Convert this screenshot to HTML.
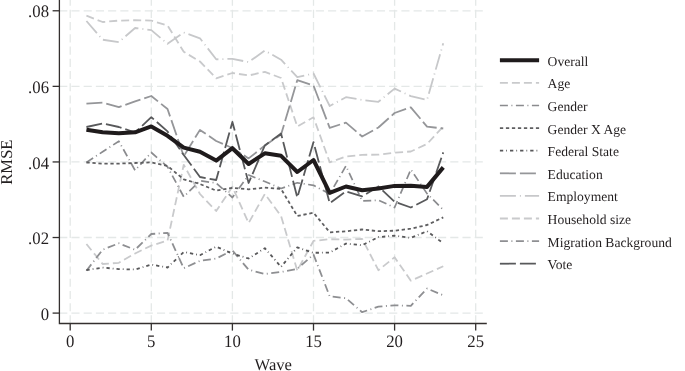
<!DOCTYPE html>
<html><head><meta charset="utf-8"><style>
html,body{margin:0;padding:0;background:#fff;width:685px;height:371px;overflow:hidden}
svg{display:block;will-change:transform}
text{font-family:"Liberation Serif",serif;text-rendering:geometricPrecision}
</style></head><body>
<svg width="685" height="371" viewBox="0 0 685 371">
<rect width="685" height="371" fill="#fff"/>

<line x1="59.2" y1="313.10" x2="486.8" y2="313.10" stroke="#e4e8e7" stroke-width="1.3" stroke-dasharray="8.15 4.07"/>
<line x1="59.2" y1="237.52" x2="486.8" y2="237.52" stroke="#e4e8e7" stroke-width="1.3" stroke-dasharray="8.15 4.07"/>
<line x1="59.2" y1="161.94" x2="486.8" y2="161.94" stroke="#e4e8e7" stroke-width="1.3" stroke-dasharray="8.15 4.07"/>
<line x1="59.2" y1="86.36" x2="486.8" y2="86.36" stroke="#e4e8e7" stroke-width="1.3" stroke-dasharray="8.15 4.07"/>
<line x1="59.2" y1="10.78" x2="486.8" y2="10.78" stroke="#e4e8e7" stroke-width="1.3" stroke-dasharray="8.15 4.07"/>
<line x1="70.20" y1="323.5" x2="70.20" y2="-5" stroke="#e4e8e7" stroke-width="1.3" stroke-dasharray="8.15 4.07"/>
<line x1="151.30" y1="323.5" x2="151.30" y2="-5" stroke="#e4e8e7" stroke-width="1.3" stroke-dasharray="8.15 4.07"/>
<line x1="232.40" y1="323.5" x2="232.40" y2="-5" stroke="#e4e8e7" stroke-width="1.3" stroke-dasharray="8.15 4.07"/>
<line x1="313.50" y1="323.5" x2="313.50" y2="-5" stroke="#e4e8e7" stroke-width="1.3" stroke-dasharray="8.15 4.07"/>
<line x1="394.60" y1="323.5" x2="394.60" y2="-5" stroke="#e4e8e7" stroke-width="1.3" stroke-dasharray="8.15 4.07"/>
<line x1="475.70" y1="323.5" x2="475.70" y2="-5" stroke="#e4e8e7" stroke-width="1.3" stroke-dasharray="8.15 4.07"/>
<polyline points="86.42,244.00 102.64,264.00 118.86,262.80 135.08,253.50 151.30,245.60 167.52,240.60 183.74,164.80 199.96,194.00 216.18,211.00 232.40,186.80 248.62,223.00 264.84,194.00 281.06,216.00 297.28,270.50 313.50,240.90 329.72,239.20 345.94,239.60 362.16,238.80 378.38,270.20 394.60,257.30 410.82,280.70 427.04,273.50 443.26,266.20" fill="none" stroke="#c9cacc" stroke-width="1.80" stroke-linejoin="round" stroke-dasharray="8 4"/>
<polyline points="86.42,15.70 102.64,22.00 118.86,20.60 135.08,20.20 151.30,20.60 167.52,25.40 183.74,51.80 199.96,61.50 216.18,78.30 232.40,73.00 248.62,75.50 264.84,71.80 281.06,78.00 297.28,126.50 313.50,117.30 329.72,162.30 345.94,156.50 362.16,154.80 378.38,154.70 394.60,152.60 410.82,151.50 427.04,144.00 443.26,126.50" fill="none" stroke="#c9cacc" stroke-width="1.80" stroke-linejoin="round" stroke-dasharray="8 4"/>
<polyline points="86.42,21.00 102.64,39.70 118.86,42.10 135.08,28.00 151.30,30.10 167.52,43.80 183.74,32.50 199.96,38.30 216.18,59.30 232.40,58.80 248.62,62.10 264.84,50.60 281.06,59.70 297.28,77.20 313.50,73.50 329.72,106.00 345.94,97.20 362.16,99.90 378.38,101.80 394.60,88.60 410.82,96.10 427.04,99.90 443.26,43.20" fill="none" stroke="#c7c8ca" stroke-width="1.80" stroke-linejoin="round" stroke-dasharray="16 4 1 4"/>
<polyline points="86.42,270.70 102.64,249.70 118.86,243.30 135.08,249.80 151.30,234.00 167.52,232.90 183.74,268.20 199.96,260.90 216.18,258.50 232.40,250.40 248.62,269.80 264.84,274.00 281.06,272.00 297.28,268.90 313.50,254.50 329.72,296.40 345.94,298.20 362.16,312.20 378.38,306.60 394.60,305.30 410.82,305.80 427.04,288.50 443.26,295.30" fill="none" stroke="#8e8f92" stroke-width="1.80" stroke-linejoin="round" stroke-dasharray="8 3.5 1 3.5"/>
<polyline points="86.42,103.60 102.64,102.60 118.86,107.20 135.08,101.30 151.30,96.00 167.52,109.00 183.74,156.20 199.96,129.90 216.18,141.00 232.40,148.00 248.62,158.40 264.84,145.50 281.06,134.60 297.28,80.20 313.50,85.50 329.72,127.90 345.94,122.60 362.16,136.50 378.38,127.50 394.60,113.00 410.82,107.30 427.04,126.70 443.26,128.50" fill="none" stroke="#959699" stroke-width="1.80" stroke-linejoin="round" stroke-dasharray="16 4"/>
<polyline points="86.42,162.40 102.64,151.80 118.86,141.20 135.08,170.40 151.30,152.50 167.52,166.80 183.74,196.80 199.96,180.80 216.18,183.00 232.40,197.50 248.62,175.00 264.84,181.50 281.06,188.50 297.28,182.80 313.50,185.30 329.72,194.00 345.94,165.90 362.16,201.00 378.38,200.20 394.60,207.50 410.82,169.50 427.04,193.60 443.26,209.80" fill="none" stroke="#8a8b8e" stroke-width="1.70" stroke-linejoin="round" stroke-dasharray="8 3.5 1 3.5"/>
<polyline points="86.42,270.00 102.64,267.60 118.86,269.10 135.08,269.50 151.30,264.60 167.52,267.50 183.74,252.00 199.96,255.20 216.18,246.70 232.40,253.60 248.62,258.50 264.84,248.20 281.06,266.80 297.28,247.40 313.50,252.80 329.72,252.60 345.94,243.60 362.16,245.20 378.38,237.10 394.60,235.70 410.82,237.90 427.04,231.20 443.26,243.30" fill="none" stroke="#58585a" stroke-width="1.80" stroke-linejoin="round" stroke-dasharray="3.3 3 0.8 3"/>
<polyline points="86.42,162.50 102.64,163.60 118.86,163.60 135.08,163.00 151.30,162.40 167.52,166.00 183.74,179.30 199.96,184.00 216.18,190.60 232.40,187.80 248.62,189.30 264.84,187.70 281.06,189.00 297.28,216.00 313.50,212.70 329.72,232.30 345.94,231.30 362.16,229.50 378.38,231.20 394.60,230.70 410.82,228.70 427.04,225.00 443.26,217.40" fill="none" stroke="#5e5e60" stroke-width="1.80" stroke-linejoin="round" stroke-dasharray="3.3 2.7"/>
<polyline points="86.42,127.00 102.64,123.40 118.86,127.00 135.08,132.50 151.30,117.20 167.52,131.40 183.74,155.00 199.96,177.00 216.18,180.00 232.40,121.90 248.62,183.00 264.84,145.50 281.06,133.50 297.28,197.50 313.50,142.10 329.72,203.30 345.94,191.40 362.16,196.30 378.38,186.50 394.60,201.80 410.82,207.50 427.04,199.30 443.26,152.40" fill="none" stroke="#58595b" stroke-width="1.80" stroke-linejoin="round" stroke-dasharray="16 4"/>
<polyline points="86.42,129.70 102.64,132.30 118.86,133.20 135.08,132.30 151.30,126.40 167.52,135.80 183.74,147.60 199.96,151.80 216.18,160.60 232.40,148.20 248.62,164.00 264.84,153.30 281.06,155.80 297.28,172.00 313.50,160.00 329.72,192.80 345.94,186.50 362.16,190.20 378.38,188.50 394.60,185.90 410.82,185.80 427.04,186.90 443.26,167.40" fill="none" stroke="#1f1b1c" stroke-width="4.00" stroke-linejoin="round"/>
<path d="M59.4,-2V323.5H486.8" fill="none" stroke="#34302f" stroke-width="1.3" stroke-linejoin="miter"/>
<line x1="52.6" y1="313.10" x2="59.4" y2="313.10" stroke="#34302f" stroke-width="1.3"/>
<text transform="translate(49.0,319.70) scale(0.955,1)" font-size="17.5" text-anchor="end" fill="#231f20">0</text>
<line x1="52.6" y1="237.52" x2="59.4" y2="237.52" stroke="#34302f" stroke-width="1.3"/>
<text transform="translate(49.0,244.12) scale(0.955,1)" font-size="17.5" text-anchor="end" fill="#231f20">.02</text>
<line x1="52.6" y1="161.94" x2="59.4" y2="161.94" stroke="#34302f" stroke-width="1.3"/>
<text transform="translate(49.0,168.54) scale(0.955,1)" font-size="17.5" text-anchor="end" fill="#231f20">.04</text>
<line x1="52.6" y1="86.36" x2="59.4" y2="86.36" stroke="#34302f" stroke-width="1.3"/>
<text transform="translate(49.0,92.96) scale(0.955,1)" font-size="17.5" text-anchor="end" fill="#231f20">.06</text>
<line x1="52.6" y1="10.78" x2="59.4" y2="10.78" stroke="#34302f" stroke-width="1.3"/>
<text transform="translate(49.0,17.38) scale(0.955,1)" font-size="17.5" text-anchor="end" fill="#231f20">.08</text>
<line x1="70.20" y1="323.5" x2="70.20" y2="330.6" stroke="#34302f" stroke-width="1.3"/>
<text transform="translate(70.20,346.7) scale(0.955,1)" font-size="17.5" text-anchor="middle" fill="#231f20">0</text>
<line x1="151.30" y1="323.5" x2="151.30" y2="330.6" stroke="#34302f" stroke-width="1.3"/>
<text transform="translate(151.30,346.7) scale(0.955,1)" font-size="17.5" text-anchor="middle" fill="#231f20">5</text>
<line x1="232.40" y1="323.5" x2="232.40" y2="330.6" stroke="#34302f" stroke-width="1.3"/>
<text transform="translate(232.40,346.7) scale(0.955,1)" font-size="17.5" text-anchor="middle" fill="#231f20">10</text>
<line x1="313.50" y1="323.5" x2="313.50" y2="330.6" stroke="#34302f" stroke-width="1.3"/>
<text transform="translate(313.50,346.7) scale(0.955,1)" font-size="17.5" text-anchor="middle" fill="#231f20">15</text>
<line x1="394.60" y1="323.5" x2="394.60" y2="330.6" stroke="#34302f" stroke-width="1.3"/>
<text transform="translate(394.60,346.7) scale(0.955,1)" font-size="17.5" text-anchor="middle" fill="#231f20">20</text>
<line x1="475.70" y1="323.5" x2="475.70" y2="330.6" stroke="#34302f" stroke-width="1.3"/>
<text transform="translate(475.70,346.7) scale(0.955,1)" font-size="17.5" text-anchor="middle" fill="#231f20">25</text>
<text x="273.3" y="369.6" font-size="16.6" text-anchor="middle" fill="#231f20">Wave</text>
<text transform="translate(11.9,162.1) rotate(-90)" x="0" y="0" font-size="16.6" text-anchor="middle" fill="#231f20">RMSE</text>
<line x1="499.9" y1="60.30" x2="539.1" y2="60.30" stroke="#1f1b1c" stroke-width="4.00"/>
<text x="547.6" y="65.70" font-size="13.6" fill="#231f20">Overall</text>
<line x1="499.9" y1="82.90" x2="539.1" y2="82.90" stroke="#c9cacc" stroke-width="1.80" stroke-dasharray="8 4"/>
<text x="547.6" y="88.30" font-size="13.6" fill="#231f20">Age</text>
<line x1="499.9" y1="105.50" x2="539.1" y2="105.50" stroke="#8a8b8e" stroke-width="1.70" stroke-dasharray="8 3.5 1 3.5"/>
<text x="547.6" y="110.90" font-size="13.6" fill="#231f20">Gender</text>
<line x1="499.9" y1="128.10" x2="539.1" y2="128.10" stroke="#5e5e60" stroke-width="1.80" stroke-dasharray="3.3 2.7"/>
<text x="547.6" y="133.50" font-size="13.6" fill="#231f20">Gender X Age</text>
<line x1="499.9" y1="150.70" x2="539.1" y2="150.70" stroke="#58585a" stroke-width="1.80" stroke-dasharray="3.3 3 0.8 3"/>
<text x="547.6" y="156.10" font-size="13.6" fill="#231f20">Federal State</text>
<line x1="499.9" y1="173.30" x2="539.1" y2="173.30" stroke="#959699" stroke-width="1.80" stroke-dasharray="16 4"/>
<text x="547.6" y="178.70" font-size="13.6" fill="#231f20">Education</text>
<line x1="499.9" y1="195.90" x2="539.1" y2="195.90" stroke="#c7c8ca" stroke-width="1.80" stroke-dasharray="16 4 1 4"/>
<text x="547.6" y="201.30" font-size="13.6" fill="#231f20">Employment</text>
<line x1="499.9" y1="218.50" x2="539.1" y2="218.50" stroke="#c9cacc" stroke-width="1.80" stroke-dasharray="8 4"/>
<text x="547.6" y="223.90" font-size="13.6" fill="#231f20">Household size</text>
<line x1="499.9" y1="241.10" x2="539.1" y2="241.10" stroke="#8e8f92" stroke-width="1.80" stroke-dasharray="8 3.5 1 3.5"/>
<text x="547.6" y="246.50" font-size="13.6" fill="#231f20">Migration Background</text>
<line x1="499.9" y1="263.70" x2="539.1" y2="263.70" stroke="#58595b" stroke-width="1.80" stroke-dasharray="16 4"/>
<text x="547.6" y="269.10" font-size="13.6" fill="#231f20">Vote</text>
</svg></body></html>
